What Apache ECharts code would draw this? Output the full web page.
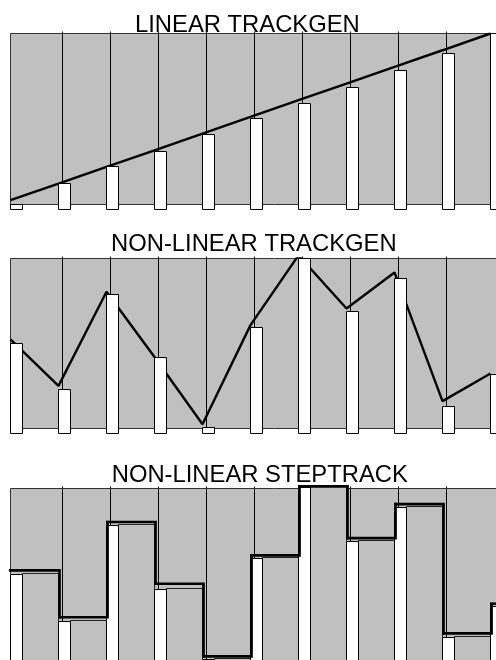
<!DOCTYPE html>
<html><head><meta charset="utf-8">
<script src="https://cdn.jsdelivr.net/npm/echarts@6/dist/echarts.min.js"></script>
<style>html,body{margin:0;padding:0;overflow:hidden;background:#fff;width:496px;height:660px}#c{width:560px;height:660px}</style>
</head><body><div id="c"></div>
<script>
// sample indices (x positions of the samples)
const samples = [0, 1, 2, 3, 4, 5, 6, 7, 8, 9, 10];
// sample indices that carry a vertical marker line
const markerSamples = [1, 2, 3, 4, 5, 6, 7, 8, 9];
const titles = ['LINEAR TRACKGEN', 'NON-LINEAR TRACKGEN', 'NON-LINEAR STEPTRACK'];

// panel 1
const linearTrack   = [2.5, 12.2, 22.0, 31.7, 41.5, 51.2, 61.0, 70.7, 80.5, 90.2, 100];
const linearSamples = [2.9, 15.2, 25.0, 33.8, 43.8, 52.8, 61.6, 71.3, 81.1, 90.9, 102.6];
// panel 2
const nonLinearTrack   = [52.4, 25.1, 80.4, 42.1, 2.5, 60.8, 101.9, 70.6, 91.8, 16.1, 32.4];
const nonLinearSamples = [52.7, 25.5, 81.4, 44.5, 3.3, 61.8, 102.9, 71.5, 90.9, 15.6, 34.3];
// panel 3
const stepTrack   = [52.1, 24.7, 80.4, 44.3, 1.8, 60.9, 101.3, 71.0, 90.9, 15.3, 32.6];
const stepSamples = [52.5, 24.7, 81.2, 43.8, 2.6, 61.9, 103.0, 71.6, 91.6, 15.3, 33.9];

const SHADOW_Y = 4;     // bars are drawn as an offset "shadow" below the value
const BAR_W = 12;
const GRAY = '#c0c0c0';
const crisp = (v) => Math.round(v) + 0.5;

const chart = echarts.init(document.getElementById('c'), null, {renderer: 'canvas'});

const pairs = (vals) => samples.map((k, i) => [k, vals[i]]);

function markerLines(params, api) {
  const cs = params.coordSys;
  const x = crisp(api.coord([api.value(0), 0])[0] + 3);
  return {type: 'line', shape: {x1: x, y1: cs.y - 2, x2: x, y2: cs.y + cs.height},
          style: {stroke: '#000', lineWidth: 1}};
}
function whiteBar(params, api) {
  const top = api.coord([api.value(0), api.value(1)]);
  const base = api.coord([api.value(0), 0]);
  const x = crisp(top[0] - 0.3), y = crisp(top[1] + SHADOW_Y), yb = crisp(base[1] + SHADOW_Y);
  return {type: 'rect', shape: {x: x, y: y, width: BAR_W, height: Math.max(yb - y, 2)},
          style: {fill: '#fff', stroke: '#000', lineWidth: 1}};
}
function grayBar(params, api) {
  const top = api.coord([api.value(0), api.value(1)]);
  const base = api.coord([api.value(0), 0]);
  const next = api.coord([api.value(0) + 1, 0]);
  const x0 = crisp(top[0] - 0.3) + BAR_W, x1 = crisp(next[0] - 0.8);
  const y = crisp(top[1] + SHADOW_Y - 1), yb = crisp(base[1] + SHADOW_Y);
  return {type: 'rect', shape: {x: x0, y: y, width: x1 - x0, height: yb - y},
          style: {fill: GRAY, stroke: '#222', lineWidth: 1}};
}
function stepSeg(params, api) {
  const i = params.dataIndex;
  const p = api.coord([api.value(0), api.value(1)]);
  const q = api.coord([api.value(0) + 1, api.value(1)]);
  const pts = [[p[0] + (i === 0 ? -0.3 : 1), p[1]], [q[0] + 1, q[1]]];
  if (i < stepTrack.length - 1) {
    const r = api.coord([api.value(0) + 1, stepTrack[i + 1]]);
    pts.push([r[0] + 1, r[1]]);
  }
  return {type: 'polyline', shape: {points: pts},
          style: {stroke: '#000', lineWidth: 2.7, fill: null, lineCap: 'square', lineJoin: 'miter'}};
}

const gridTops = [33.5, 258.5, 488.5];
const gridHeights = [171, 170, 171];
const titleTops = [13.0, 232.3, 463.0];
const titleLefts = [135, 111, 111.7];

const option = {
  animation: false,
  backgroundColor: '#fff',
  title: titles.map((t, i) => ({
    text: t, left: titleLefts[i], top: titleTops[i], padding: 0,
    textStyle: {fontFamily: 'Liberation Sans, Arial, sans-serif', fontSize: 23.8, fontWeight: 'normal', color: '#000'}
  })),
  grid: gridTops.map((t, i) => ({
    left: 10.5, top: t, width: 528, height: gridHeights[i], show: true,
    backgroundColor: GRAY, borderColor: '#333', borderWidth: 1
  })),
  xAxis: [0, 1, 2].map(i => ({type: 'value', gridIndex: i, min: 0, max: 11, show: false})),
  yAxis: [0, 1, 2].map(i => ({type: 'value', gridIndex: i, min: 0, max: 100, show: false})),
  series: [
    // panel 1
    {type: 'custom', xAxisIndex: 0, yAxisIndex: 0, z: 1, renderItem: markerLines, data: markerSamples.map(k => [k, 0]), silent: true},
    {type: 'line', xAxisIndex: 0, yAxisIndex: 0, z: 3, data: pairs(linearTrack), showSymbol: false, symbol: 'none',
     lineStyle: {color: '#000', width: 2.4}},
    {type: 'custom', xAxisIndex: 0, yAxisIndex: 0, z: 4, renderItem: whiteBar, data: pairs(linearSamples), clip: false},
    // panel 2
    {type: 'custom', xAxisIndex: 1, yAxisIndex: 1, z: 1, renderItem: markerLines, data: markerSamples.map(k => [k, 0]), silent: true},
    {type: 'line', xAxisIndex: 1, yAxisIndex: 1, z: 3, data: pairs(nonLinearTrack), showSymbol: false, symbol: 'none',
     lineStyle: {color: '#000', width: 2.4}},
    {type: 'custom', xAxisIndex: 1, yAxisIndex: 1, z: 4, renderItem: whiteBar, data: pairs(nonLinearSamples), clip: false},
    // panel 3
    {type: 'custom', xAxisIndex: 2, yAxisIndex: 2, z: 1, renderItem: markerLines, data: markerSamples.map(k => [k, 0]), silent: true},
    {type: 'custom', xAxisIndex: 2, yAxisIndex: 2, z: 2, renderItem: grayBar, data: pairs(stepSamples), clip: false},
    {type: 'custom', xAxisIndex: 2, yAxisIndex: 2, z: 3, renderItem: whiteBar, data: pairs(stepSamples), clip: false},
    {type: 'custom', xAxisIndex: 2, yAxisIndex: 2, z: 5, renderItem: stepSeg, data: pairs(stepTrack), clip: false}
  ]
};
chart.setOption(option);
</script></body></html>
